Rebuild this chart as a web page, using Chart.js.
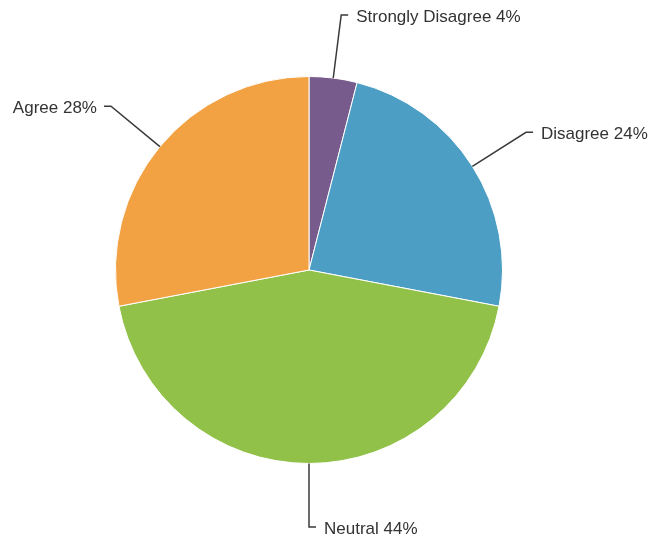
<!DOCTYPE html>
<html>
<head>
<meta charset="utf-8">
<script src="https://cdn.jsdelivr.net/npm/chart.js@4/dist/chart.umd.min.js"></script>
<style>
	html, body { margin: 0; padding: 0; background: #fff; }
	#wrap { width: 649px; height: 537px; }
</style>
</head>
<body>
<div id="wrap"><canvas id="PieChart" width="649" height="537"></canvas></div>
<script>
var labels = ["Strongly Disagree", "Disagree", "Neutral", "Agree"];
var percents = [4, 24, 44, 28];
var colors = ["#775b8c", "#4c9ec5", "#92c14a", "#f3a243"];

// leader lines + labels drawn next to each slice
var leaderLabels = {
	id: "leaderLabels",
	afterDraw: function(chart) {
		var ctx = chart.ctx;
		var arcs = chart.getDatasetMeta(0).data;
		ctx.save();
		ctx.strokeStyle = "#3a3a3a";
		ctx.lineWidth = 1.5;
		ctx.fillStyle = "#333";
		ctx.font = "17px 'Liberation Sans', Arial, sans-serif";
		ctx.textBaseline = "middle";
		arcs.forEach(function(arc, i) {
			var mid = (arc.startAngle + arc.endAngle) / 2;
			var cx = arc.x, cy = arc.y, r = arc.outerRadius;
			var x0 = cx + Math.cos(mid) * r, y0 = cy + Math.sin(mid) * r;
			var x1 = cx + Math.cos(mid) * 257, y1 = cy + Math.sin(mid) * 257;
			var right = x1 >= cx - 1;
			var x2 = x1 + (right ? 7 : -7);
			ctx.beginPath();
			ctx.moveTo(x0, y0);
			ctx.lineTo(x1, y1);
			ctx.lineTo(x2, y1);
			ctx.stroke();
			ctx.textAlign = right ? "left" : "right";
			ctx.fillText(labels[i] + " " + percents[i] + "%", x2 + (right ? 8 : -7), y1 + 2);
		});
		ctx.restore();
	}
};

new Chart(document.getElementById("PieChart").getContext("2d"), {
	type: "pie",
	data: {
		labels: labels,
		datasets: [{
			data: percents,
			backgroundColor: colors,
			borderColor: "#ffffff",
			borderWidth: 1
		}]
	},
	options: {
		responsive: false,
		animation: false,
		layout: {
			padding: { left: 115, right: 146, top: 76, bottom: 73 }
		},
		plugins: {
			legend: { display: false },
			tooltip: { enabled: false }
		}
	},
	plugins: [leaderLabels]
});
</script>
</body>
</html>
